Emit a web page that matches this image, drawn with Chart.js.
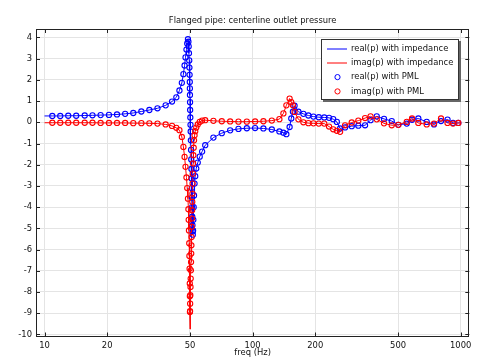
<!DOCTYPE html>
<html>
<head>
<meta charset="utf-8">
<script src="https://cdn.jsdelivr.net/npm/chart.js@4.4.1/dist/chart.umd.min.js"></script>
<style>
  html, body { margin: 0; padding: 0; background: #fff; }
  #wrap { width: 484px; height: 364px; }
</style>
</head>
<body>
<div id="wrap"><canvas id="chart" width="484" height="364"></canvas></div>
<script>
// === Datos ===
const freq = [
  10.9, 11.9, 13.0, 14.2, 15.6, 17.0, 18.6, 20.4, 22.3, 24.4, 26.7, 29.2, 31.9, 34.9, 38.2, 41.0, 43.0,
  44.5, 45.7, 46.5, 47.1, 47.6, 48.1, 48.5, 48.9,
  49.15, 49.3, 49.45, 49.6, 49.7, 49.8, 49.9, 49.95, 50.0, 50.05, 50.1, 50.2, 50.3, 50.4, 50.5, 50.6,
  50.7, 50.8, 50.9, 51.0, 51.1, 51.2, 51.3, 51.4, 51.5, 51.6, 51.75, 51.9, 52.1, 52.3, 52.6, 53.0,
  53.6, 54.5, 55.7, 57.2,
  59.2, 64.8, 71.1, 78.0, 85.5, 93.8, 102.8, 112.7, 123.7, 134.5, 140.6, 145.3, 150.6, 153.4, 156.2,
  159.1, 166.0, 175.4, 185.4, 196, 208, 221, 233, 244, 254, 263.3, 278.2, 299.5, 322.2, 347.1, 368.8,
  395.0, 428.1, 466.3, 501.5, 550.5, 583.6, 625.8, 686.6, 744.3, 804.3, 864.5, 918.6, 973.9
];
const realPML = [
  0.30, 0.30, 0.31, 0.31, 0.32, 0.33, 0.34, 0.35, 0.37, 0.40, 0.44, 0.51, 0.58, 0.66, 0.80, 0.98, 1.18,
  1.50, 1.86, 2.27, 2.68, 3.06, 3.43, 3.72, 3.92,
  3.80, 3.58, 3.26, 2.92, 2.58, 2.24, 1.90, 1.60, 1.29, 0.95, 0.58, 0.23, -0.12, -0.43, -0.85, -1.30,
  -1.75, -2.20, -2.65, -3.10, -3.55, -4.00, -4.45, -4.85, -5.15, -5.30, -5.10, -4.60, -4.00, -3.45, -2.89, -2.54,
  -2.18, -1.90, -1.62, -1.38,
  -1.08, -0.72, -0.51, -0.38, -0.31, -0.28, -0.27, -0.29, -0.34, -0.43, -0.49, -0.56, -0.22, 0.18, 0.50,
  0.78, 0.50, 0.40, 0.32, 0.27, 0.24, 0.23, 0.21, 0.15, 0.02, -0.29, -0.24, -0.18, -0.16, -0.14, 0.10,
  0.28, 0.16, 0.06, -0.12, -0.06, 0.12, 0.18, 0.02, -0.10, 0.06, 0.13, -0.03, -0.03
];
const imagPML = [
  -0.02, -0.02, -0.02, -0.02, -0.02, -0.02, -0.03, -0.03, -0.03, -0.03, -0.04, -0.04, -0.05, -0.06, -0.10, -0.17, -0.26,
  -0.37, -0.69, -1.16, -1.63, -2.10, -2.60, -3.10, -3.60,
  -4.10, -4.60, -5.10, -5.70, -6.30, -6.90, -7.60, -8.20, -8.94, -8.90, -8.55, -8.15, -7.76, -7.37, -6.98, -6.59,
  -6.19, -5.80, -5.41, -4.93, -4.54, -4.15, -3.75, -3.36, -2.89, -2.42, -1.94, -1.55, -1.20, -0.85, -0.61, -0.42,
  -0.25, -0.10, 0.02, 0.08,
  0.10, 0.07, 0.05, 0.04, 0.03, 0.03, 0.04, 0.05, 0.08, 0.15, 0.42, 0.80, 1.12, 0.95, 0.80,
  0.49, 0.14, 0.00, -0.04, -0.05, -0.06, -0.06, -0.20, -0.33, -0.40, -0.45, -0.14, -0.01, 0.08, 0.20, 0.28,
  0.14, -0.05, -0.14, -0.12, 0.02, 0.18, -0.03, -0.10, -0.06, 0.18, -0.03, -0.06, -0.03
];
// puntos extra de la curva con impedancia (inicio, fondo del pico, final)
const impExtraFreq = [10, 50.02, 1000];
const impExtraReal = [0.30, 1.12, -0.03];
const impExtraImag = [-0.02, -9.75, -0.03];

const xTicks = [10, 20, 50, 100, 200, 500, 1000];
const yTicks = [-10, -9, -8, -7, -6, -5, -4, -3, -2, -1, 0, 1, 2, 3, 4];

const titulo = "Flanged pipe: centerline outlet pressure";
const FONT = "DejaVu Sans";
const BLUE = "#0000ff";
const RED = "#ff0000";

// === Series ===
function puntos(fs, vals) {
  return fs.map((f, i) => ({ x: f, y: vals[i] }));
}
function ordenar(arr) {
  return arr.slice().sort((a, b) => a.x - b.x);
}
const pmlReal = puntos(freq, realPML);
const pmlImag = puntos(freq, imagPML);
const impReal = ordenar(pmlReal.concat(puntos(impExtraFreq, impExtraReal)));
const impImag = ordenar(pmlImag.concat(puntos(impExtraFreq, impExtraImag)));

// titulo, marco, marcas hacia dentro y leyenda
const marcoYLeyenda = {
  id: "marcoYLeyenda",
  afterDraw(chart) {
    const { ctx, chartArea: a, scales: { x, y } } = chart;
    ctx.save();

    ctx.font = "8.4px '" + FONT + "'";
    ctx.fillStyle = "#111";
    ctx.textAlign = "center";
    ctx.textBaseline = "middle";
    ctx.fillText(titulo, (a.left + a.right) / 2, 21);

    ctx.strokeStyle = "#222";
    ctx.lineWidth = 1;
    ctx.beginPath();
    xTicks.forEach(v => {
      const px = Math.round(x.getPixelForValue(v)) + 0.5;
      ctx.moveTo(px, a.bottom); ctx.lineTo(px, a.bottom - 4);
      ctx.moveTo(px, a.top); ctx.lineTo(px, a.top + 4);
    });
    yTicks.forEach(v => {
      const py = Math.round(y.getPixelForValue(v)) + 0.5;
      ctx.moveTo(a.left, py); ctx.lineTo(a.left + 4, py);
      ctx.moveTo(a.right, py); ctx.lineTo(a.right - 4, py);
    });
    ctx.stroke();
    ctx.strokeRect(Math.round(a.left) + 0.5, Math.round(a.top) + 0.5, Math.round(a.width) - 1, Math.round(a.height) - 1);

    // leyenda
    const lx = 321, ly = 39, lw = 138, lh = 61;
    ctx.fillStyle = "#666";
    ctx.fillRect(lx + 2, ly + 2, lw, lh);
    ctx.fillStyle = "#fff";
    ctx.fillRect(lx, ly, lw, lh);
    ctx.strokeStyle = "#333";
    ctx.strokeRect(lx + 0.5, ly + 0.5, lw - 1, lh - 1);

    const filas = [
      { texto: "real(p) with impedance", color: BLUE, tipo: "linea" },
      { texto: "imag(p) with impedance", color: RED, tipo: "linea" },
      { texto: "real(p) with PML", color: BLUE, tipo: "circulo" },
      { texto: "imag(p) with PML", color: RED, tipo: "circulo" }
    ];
    ctx.textAlign = "left";
    filas.forEach((fila, i) => {
      const yy = ly + 9.5 + i * 14.3;
      ctx.strokeStyle = fila.color;
      ctx.lineWidth = 1;
      ctx.beginPath();
      if (fila.tipo === "linea") {
        ctx.moveTo(327, Math.round(yy));
        ctx.lineTo(347, Math.round(yy));
      } else {
        ctx.arc(337.5, yy, 2.6, 0, Math.PI * 2);
      }
      ctx.stroke();
      ctx.fillStyle = "#111";
      ctx.fillText(fila.texto, 351, yy);
    });
    ctx.restore();
  }
};

const ctx = document.getElementById("chart").getContext("2d");
const chart = new Chart(ctx, {
  type: "scatter",
  data: {
    datasets: [
      {
        label: "real(p) with PML",
        data: pmlReal,
        showLine: false,
        pointStyle: "circle",
        pointRadius: 2.6,
        borderWidth: 1.1,
        borderColor: BLUE,
        backgroundColor: "rgba(0,0,0,0)",
        order: 1
      },
      {
        label: "imag(p) with PML",
        data: pmlImag,
        showLine: false,
        pointStyle: "circle",
        pointRadius: 2.6,
        borderWidth: 1.1,
        borderColor: RED,
        backgroundColor: "rgba(0,0,0,0)",
        order: 0
      },
      {
        label: "real(p) with impedance",
        data: impReal,
        showLine: true,
        pointRadius: 0,
        borderWidth: 1,
        borderColor: BLUE,
        order: 3
      },
      {
        label: "imag(p) with impedance",
        data: impImag,
        showLine: true,
        pointRadius: 0,
        borderWidth: 1,
        borderColor: RED,
        order: 2
      }
    ]
  },
  options: {
    responsive: false,
    animation: false,
    devicePixelRatio: 1,
    layout: { padding: { top: 29, right: 14.7, bottom: 0, left: 0 } },
    plugins: {
      legend: { display: false },
      tooltip: { enabled: false },
      title: { display: false }
    },
    scales: {
      x: {
        type: "logarithmic",
        min: 9.1,
        max: 1100,
        afterBuildTicks: s => { s.ticks = xTicks.map(v => ({ value: v })); },
        afterFit: s => { s.height = 27.5; },
        grid: { color: "#e4e4e4", drawTicks: false },
        border: { display: false },
        ticks: {
          color: "#111",
          padding: 4,
          maxRotation: 0,
          autoSkip: false,
          font: { family: FONT, size: 8.4 },
          callback: v => String(v)
        },
        title: {
          display: true,
          text: "freq (Hz)",
          color: "#111",
          font: { family: FONT, size: 8.4 },
          padding: { top: 0, bottom: 6 }
        }
      },
      y: {
        type: "linear",
        min: -10.1,
        max: 4.4,
        afterBuildTicks: s => { s.ticks = yTicks.map(v => ({ value: v })); },
        afterFit: s => { s.width = 36; },
        grid: { color: "#e4e4e4", drawTicks: false },
        border: { display: false },
        ticks: {
          color: "#111",
          padding: 4,
          font: { family: FONT, size: 8.4 },
          callback: v => String(v)
        }
      }
    }
  },
  plugins: [marcoYLeyenda]
});
</script>
</body>
</html>
